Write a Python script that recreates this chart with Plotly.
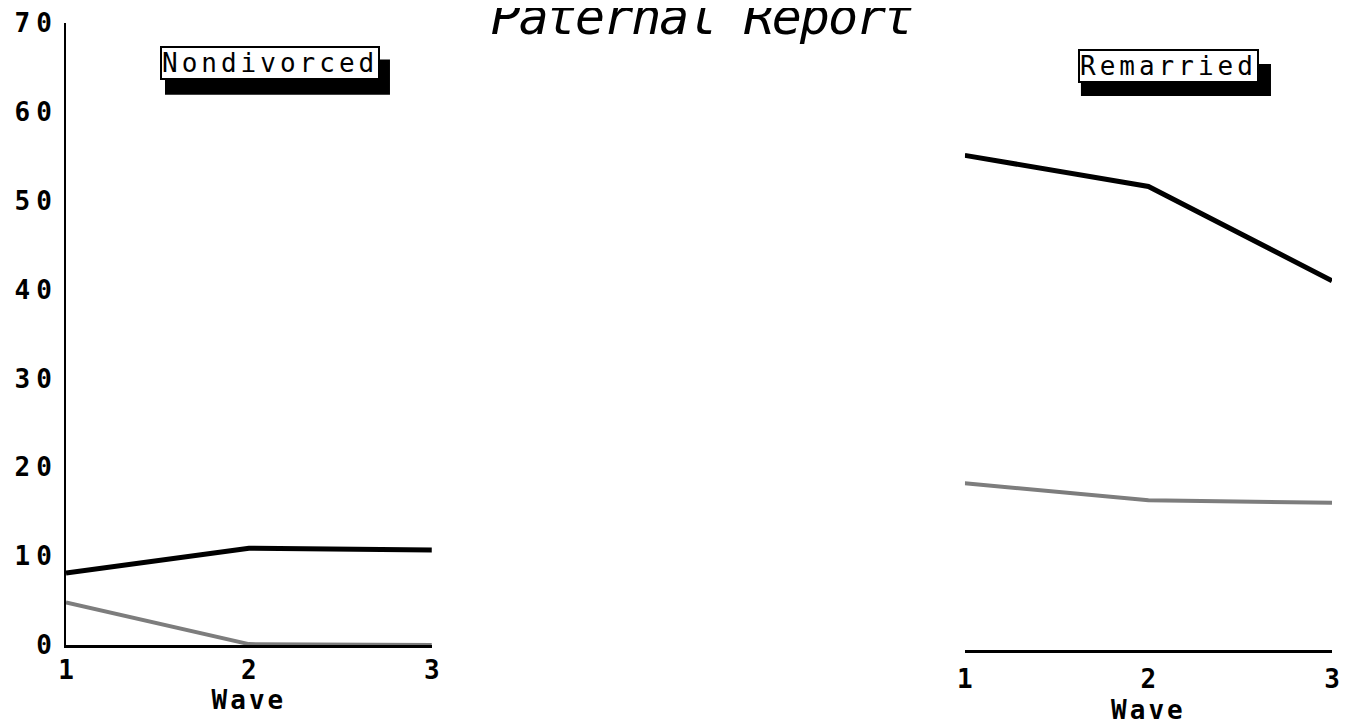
import plotly.graph_objects as go

waves = [1, 2, 3]
nondivorced_black = [8.1, 10.9, 10.7]
nondivorced_gray = [4.8, 0.1, 0.0]
remarried_black = [55.1, 51.6, 41.0]
remarried_gray = [18.2, 16.3, 16.0]
y_ticks = [0, 10, 20, 30, 40, 50, 60, 70]
title_text = "Paternal Report"
panel_labels = ["Nondivorced", "Remarried"]
x_title = "Wave"

MONO = "DejaVu Sans Mono"
BLACK_LINE = dict(color="black", width=5)
GRAY_LINE = dict(color="#7d7d7d", width=4)

# plot area: 627px tall; left panel's zero sits 5px above the bottom
PLOT_H = 627
LEFT_OFF = 5
y_span = 70.0
right_lo = -y_span * LEFT_OFF / (PLOT_H - LEFT_OFF)


def spaced(s, px):
    return '<span style="letter-spacing:%dpx">%s</span>' % (px, s)


fig = go.Figure()
fig.add_trace(go.Scatter(x=waves, y=nondivorced_black, xaxis="x", yaxis="y",
                         mode="lines", line=BLACK_LINE, showlegend=False))
fig.add_trace(go.Scatter(x=waves, y=nondivorced_gray, xaxis="x", yaxis="y",
                         mode="lines", line=GRAY_LINE, showlegend=False))
fig.add_trace(go.Scatter(x=waves, y=remarried_black, xaxis="x2", yaxis="y2",
                         mode="lines", line=BLACK_LINE, showlegend=False))
fig.add_trace(go.Scatter(x=waves, y=remarried_gray, xaxis="x2", yaxis="y2",
                         mode="lines", line=GRAY_LINE, showlegend=False))

tickfont = dict(family=MONO, size=26, color="black", weight="bold")


def xaxis(domain, anchor, label_gap, title_gap):
    return dict(domain=domain, anchor=anchor, range=[1, 3], tickvals=waves,
                ticktext=[str(w) for w in waves],
                showgrid=False, zeroline=False,
                showline=True, linecolor="black", linewidth=3,
                tickfont=tickfont, ticks="", automargin=False,
                ticklabelstandoff=label_gap,
                title=dict(text=spaced(x_title, 3), font=tickfont, standoff=title_gap))


# the page body adds an 8px margin, so the figure is 16px smaller than the window
fig.update_layout(
    width=1344, height=717,
    margin=dict(l=58, r=20, t=15, b=75, autoexpand=False),
    paper_bgcolor="white", plot_bgcolor="white",
    xaxis=xaxis([0, 0.289], "y", 0, 6),
    xaxis2=xaxis([0.710, 1.0], "y2", 4, 10),
    yaxis=dict(domain=[LEFT_OFF / PLOT_H, 1], range=[0, y_span], tickvals=y_ticks,
               ticktext=[spaced(str(t), 6) for t in y_ticks],
               showgrid=False, zeroline=False,
               showline=True, linecolor="black", linewidth=2,
               ticks="outside", ticklen=1, tickcolor="white",
               tickfont=tickfont, anchor="x", automargin=False),
    yaxis2=dict(domain=[0, 1], range=[right_lo, y_span], visible=False,
                anchor="x2", automargin=False),
    title=dict(text="<i>" + spaced(title_text, -2) + "</i>", x=0.516, xanchor="center",
               y=0.988, yanchor="middle",
               font=dict(family=MONO, size=50, color="black")),
)

# Panel label boxes with drop shadows (positions in paper fractions)
boxes = [
    dict(text=panel_labels[0], cx=0.1615, cy=0.9366, sx0=0.0782, sx1=0.2559, sy0=0.8856, sy1=0.9418),
    dict(text=panel_labels[1], cx=0.8705, cy=0.9314, sx0=0.8017, sx1=0.9518, sy0=0.8836, sy1=0.9346),
]
for b in boxes:
    fig.add_shape(type="rect", xref="paper", yref="paper",
                  x0=b["sx0"], x1=b["sx1"], y0=b["sy0"], y1=b["sy1"],
                  fillcolor="black", line=dict(width=0), layer="above")
    fig.add_annotation(xref="paper", yref="paper", x=b["cx"], y=b["cy"],
                       text=spaced(b["text"], 4),
                       showarrow=False, xanchor="center", yanchor="middle",
                       font=dict(family=MONO, size=26, color="black"),
                       bgcolor="white", bordercolor="black", borderwidth=2, borderpad=0)

fig.write_html("out.html")
